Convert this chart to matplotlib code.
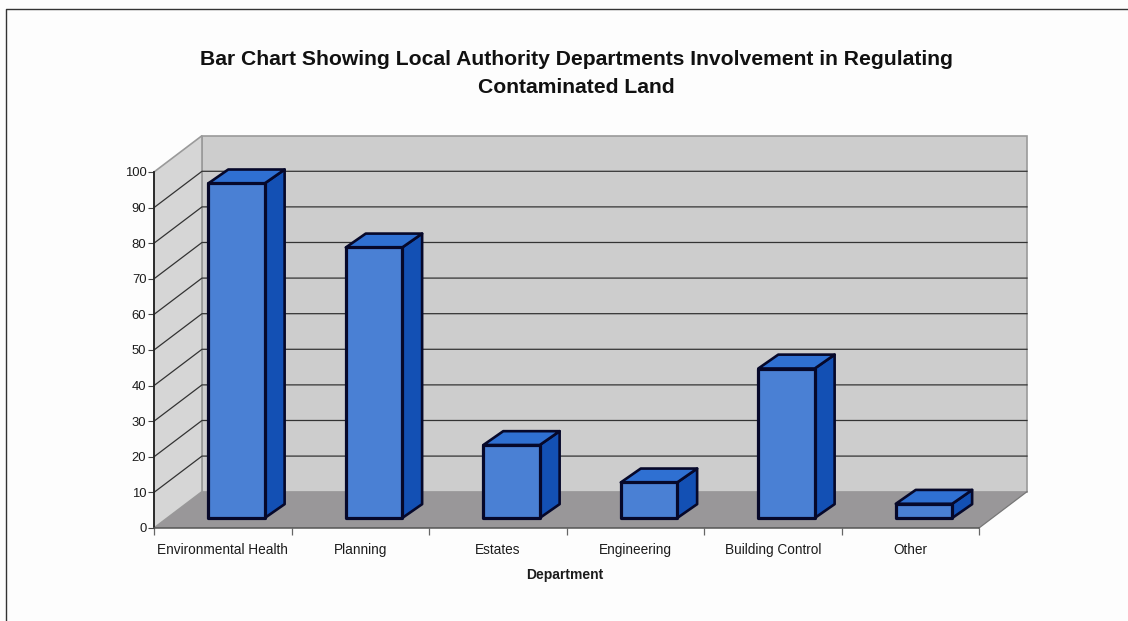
import matplotlib
matplotlib.use("Agg")
import matplotlib.pyplot as plt
from matplotlib.lines import Line2D

plt.rcParams["font.family"] = ["Liberation Sans", "DejaVu Sans"]

departments = ["Environmental Health", "Planning", "Estates", "Engineering", "Building Control", "Other"]
involvement = [94, 76, 20.5, 10, 42, 4]
y_ticks = list(range(0, 101, 10))

TEXT = "#1c1c1c"
EDGE = "#06082a"
FW, FH = 1128, 621

fig = plt.figure(figsize=(FW / 100, FH / 100), dpi=100, facecolor="#fdfdfd")
ax = fig.add_axes([154 / FW, (FH - 528) / FH, (979 - 154) / FW, (528 - 172) / FH])
ax.set_xlim(0, 6)
ax.set_ylim(0, 100)
ax.patch.set_visible(False)

# depth of the fake 3d box, in data units
wall_dx, wall_dy = 0.349, 10.2
bar_dx, bar_dy = 0.145, 3.9
bar_x0, bar_y0, bar_w = 0.395, 2.8, 0.41

# walls and floor
ax.fill([wall_dx, 6 + wall_dx, 6 + wall_dx, wall_dx], [wall_dy, wall_dy, 100 + wall_dy, 100 + wall_dy],
        fc="#cdcdcd", ec="#9a9a9a", lw=1.2, clip_on=False, zorder=1)
ax.fill([0, wall_dx, wall_dx, 0], [0, wall_dy, 100 + wall_dy, 100],
        fc="#d6d6d6", ec="#9a9a9a", lw=1.2, clip_on=False, zorder=1)
ax.fill([0, wall_dx, 6 + wall_dx, 6], [0, wall_dy, wall_dy, 0],
        fc="#999799", ec="none", clip_on=False, zorder=2)
ax.plot([6, 6 + wall_dx], [0, wall_dy], color="#777777", lw=0.9, clip_on=False, zorder=2)

# gridlines, running back along the side wall then across the back wall
for v in y_ticks[1:-1]:
    ax.plot([0, wall_dx, 6 + wall_dx], [v, v + wall_dy, v + wall_dy], color="#333333", lw=0.9,
            clip_on=False, zorder=3)

# bars
for i, val in enumerate(involvement):
    x0 = i + bar_x0
    x1 = x0 + bar_w
    y0 = bar_y0
    y1 = bar_y0 + val
    ax.fill([x1, x1 + bar_dx, x1 + bar_dx, x1], [y0, y0 + bar_dy, y1 + bar_dy, y1],
            fc="#1350b4", ec=EDGE, lw=1.9, joinstyle="round", clip_on=False, zorder=4)
    ax.fill([x0, x1, x1 + bar_dx, x0 + bar_dx], [y1, y1, y1 + bar_dy, y1 + bar_dy],
            fc="#2f70d2", ec=EDGE, lw=1.9, joinstyle="round", clip_on=False, zorder=4)
    ax.fill([x0, x1, x1, x0], [y0, y0, y1, y1],
            fc="#4a80d4", ec=EDGE, lw=2.3, joinstyle="round", clip_on=False, zorder=5)

for side in ["top", "right"]:
    ax.spines[side].set_visible(False)
ax.spines["left"].set_color("#222222")
ax.spines["left"].set_linewidth(1.3)
ax.spines["bottom"].set_color("#555555")
ax.spines["bottom"].set_linewidth(1.1)
ax.spines["left"].set_zorder(6)
ax.spines["bottom"].set_zorder(6)

ax.set_yticks(y_ticks)
ax.tick_params(axis="y", labelsize=9.4, labelcolor=TEXT, length=4, width=0.8, color="#444444", pad=1.5)
ax.set_xticks(range(7))
ax.set_xticklabels([])
ax.set_xticks([i + 0.5 for i in range(6)], departments, minor=True)
ax.tick_params(axis="x", which="major", length=5, width=0.9, color="#666666")
ax.tick_params(axis="x", which="minor", length=0, labelsize=9.8, labelcolor=TEXT, pad=10.5)

fig.text(576 / FW, 1 - 73.5 / FH, "Bar Chart Showing Local Authority Departments Involvement in Regulating\nContaminated Land",
         ha="center", va="center", fontsize=15.25, fontweight="bold", color="#111111", linespacing=1.58)
fig.text(565 / FW, 1 - 575 / FH, "Department", ha="center", va="center", fontsize=10, fontweight="bold", color=TEXT)

# scanned page frame, top and left only
fig.add_artist(Line2D([6 / FW, 6 / FW, 1], [0, 1 - 9 / FH, 1 - 9 / FH], color="#333333", lw=1.0))

fig.savefig("out.png", dpi=100, facecolor=fig.get_facecolor())
